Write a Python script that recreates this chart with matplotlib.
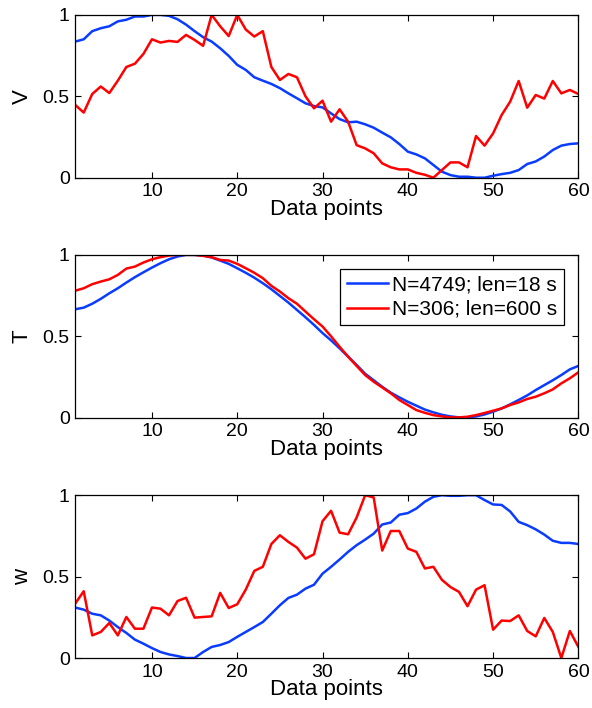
import matplotlib
matplotlib.use('Agg')
import matplotlib.pyplot as plt
import numpy as np

plt.rcParams['font.family'] = ['Liberation Sans', 'DejaVu Sans']
plt.rcParams['font.size'] = 14

x = np.arange(1, 61)

# V
v_blue = [0.836, 0.85, 0.90, 0.918, 0.93, 0.96, 0.97, 0.99, 0.99, 1.0,
          1.0, 0.994, 0.973, 0.94, 0.90, 0.863, 0.836, 0.795, 0.748, 0.693,
          0.662, 0.617, 0.596, 0.576, 0.55, 0.518, 0.488, 0.457, 0.44, 0.432,
          0.395, 0.36, 0.34, 0.344, 0.328, 0.307, 0.277, 0.248, 0.207, 0.16,
          0.143, 0.119, 0.078, 0.037, 0.016, 0.006, 0.006, 0.0, 0.0, 0.012,
          0.022, 0.03, 0.047, 0.084, 0.10, 0.13, 0.17, 0.197, 0.207, 0.211]
v_red = [0.447, 0.40, 0.514, 0.56, 0.52, 0.596, 0.68, 0.70, 0.76, 0.85,
         0.83, 0.84, 0.834, 0.877, 0.846, 0.81, 1.0, 0.93, 0.87, 1.0,
         0.91, 0.867, 0.90, 0.68, 0.60, 0.637, 0.617, 0.50, 0.426, 0.473,
         0.344, 0.42, 0.344, 0.20, 0.18, 0.15, 0.088, 0.064, 0.051, 0.051,
         0.03, 0.018, 0.0, 0.047, 0.094, 0.094, 0.064, 0.256, 0.197, 0.272,
         0.385, 0.467, 0.594, 0.43, 0.508, 0.486, 0.594, 0.518, 0.539, 0.514]

# T
t_blue = [0.666, 0.676, 0.70, 0.73, 0.764, 0.795, 0.83, 0.863, 0.893, 0.922,
          0.949, 0.973, 0.99, 1.0, 1.0, 0.996, 0.984, 0.965, 0.945, 0.918,
          0.89, 0.86, 0.826, 0.789, 0.748, 0.707, 0.662, 0.617, 0.57, 0.52,
          0.475, 0.426, 0.375, 0.324, 0.27, 0.23, 0.19, 0.154, 0.125, 0.098,
          0.074, 0.05, 0.033, 0.018, 0.008, 0.002, 0.002, 0.008, 0.02, 0.037,
          0.057, 0.082, 0.109, 0.137, 0.17, 0.20, 0.23, 0.262, 0.297, 0.318]
t_red = [0.78, 0.795, 0.82, 0.836, 0.85, 0.877, 0.916, 0.928, 0.953, 0.973,
         0.986, 0.996, 1.0, 1.0, 1.0, 0.994, 0.986, 0.969, 0.965, 0.945,
         0.918, 0.89, 0.857, 0.81, 0.775, 0.734, 0.70, 0.652, 0.605, 0.56,
         0.50, 0.436, 0.375, 0.318, 0.262, 0.221, 0.186, 0.15, 0.109, 0.078,
         0.047, 0.03, 0.016, 0.008, 0.002, 0.002, 0.006, 0.016, 0.029, 0.043,
         0.057, 0.078, 0.094, 0.115, 0.129, 0.15, 0.174, 0.211, 0.242, 0.279]

# w
w_blue = [0.31, 0.297, 0.272, 0.262, 0.23, 0.19, 0.154, 0.113, 0.088, 0.061,
          0.037, 0.022, 0.012, 0.0, 0.0, 0.037, 0.068, 0.08, 0.098, 0.13,
          0.16, 0.19, 0.221, 0.272, 0.324, 0.369, 0.389, 0.426, 0.45, 0.518,
          0.56, 0.605, 0.652, 0.693, 0.727, 0.764, 0.82, 0.832, 0.88, 0.89,
          0.918, 0.96, 0.99, 1.0, 0.996, 0.996, 1.0, 1.0, 0.97, 0.943,
          0.94, 0.90, 0.836, 0.816, 0.79, 0.758, 0.72, 0.707, 0.707, 0.70]
w_red = [0.334, 0.41, 0.139, 0.16, 0.215, 0.139, 0.252, 0.18, 0.18, 0.31,
         0.303, 0.262, 0.35, 0.37, 0.248, 0.252, 0.256, 0.40, 0.307, 0.33,
         0.42, 0.535, 0.56, 0.70, 0.754, 0.713, 0.678, 0.61, 0.637, 0.84,
         0.904, 0.77, 0.76, 0.863, 1.0, 0.986, 0.66, 0.78, 0.78, 0.672,
         0.652, 0.55, 0.56, 0.48, 0.436, 0.406, 0.318, 0.42, 0.447, 0.174,
         0.23, 0.227, 0.262, 0.166, 0.133, 0.246, 0.16, 0.0, 0.166, 0.068]

labels = ['N=4749; len=18 s', 'N=306; len=600 s']
blue = '#0a3cff'
red = '#ff0000'

fig = plt.figure(figsize=(5.92, 7.08), dpi=100)
bottoms = [0.749, 0.410, 0.0706]
series = [(v_blue, v_red, 'V'), (t_blue, t_red, 'T'), (w_blue, w_red, 'w')]

for i, (b, (yb, yr, name)) in enumerate(zip(bottoms, series)):
    ax = fig.add_axes([0.127, b, 0.850, 0.230])
    ax.plot(x, yb, color=blue, lw=1.8, label=labels[0])
    ax.plot(x, yr, color=red, lw=1.8, label=labels[1])
    ax.set_xlim(1, 60)
    ax.set_ylim(0, 1)
    ax.set_xticks([10, 20, 30, 40, 50, 60])
    ax.set_yticks([0, 0.5, 1])
    ax.set_yticklabels(['0', '0.5', '1'])
    ax.tick_params(direction='in', top=True, right=True, length=4,
                   width=0.8, labelsize=14, pad=4)
    for s in ax.spines.values():
        s.set_linewidth(0.9)
    ax.set_xlabel('Data points', fontsize=16, labelpad=-1)
    ax.set_ylabel(name, fontsize=16, labelpad=7)
    if i == 1:
        leg = ax.legend(loc='upper right', fontsize=15, fancybox=False,
                        edgecolor='black', framealpha=1, handlelength=2.0,
                        borderpad=0.3, labelspacing=0.25, handletextpad=0.2,
                        borderaxespad=0.7)
        leg.get_frame().set_linewidth(0.9)

fig.savefig('out.png', dpi=100)
